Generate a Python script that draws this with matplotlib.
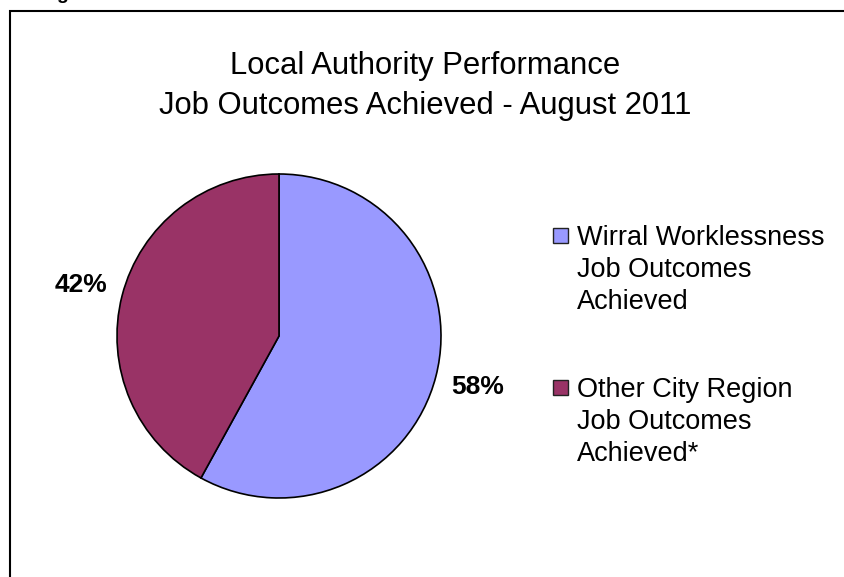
import numpy as np
import matplotlib.pyplot as plt
from matplotlib.patches import Rectangle

plt.rcParams['font.family'] = ['Liberation Sans', 'DejaVu Sans']

title = 'Local Authority Performance\nJob Outcomes Achieved - August 2011'
labels = ['Wirral Worklessness\nJob Outcomes\nAchieved',
          'Other City Region\nJob Outcomes\nAchieved*']
values = [58, 42]
colors = ['#9999FF', '#993366']

W, H = 844, 577
fig = plt.figure(figsize=(W / 100, H / 100), dpi=100)

# frame of the chart area (cut off at right and bottom)
fig.patches.append(Rectangle((10 / W, -0.1), 1.1, 1 - 11 / H + 0.1,
                             transform=fig.transFigure, fill=False,
                             edgecolor='black', lw=1.5))
# descender of a cut-off heading above the frame
fig.text(62 / W, 1 + 1 / H, 'g', fontsize=14, fontweight='bold',
         ha='center', va='baseline')

fig.text(425 / W, 1 - 86 / H, title, fontsize=22.3, ha='center', va='center',
         multialignment='center', linespacing=1.4)

# pie: centre (279, 336) px, radius 162 px
cx, cy, r = 279, 336, 162
ax = fig.add_axes([(cx - r) / W, (H - cy - r) / H, 2 * r / W, 2 * r / H])
wedges, _, autotexts = ax.pie(values, colors=colors, startangle=90,
                              counterclock=False, autopct='%1.0f%%',
                              pctdistance=1.265,
                              wedgeprops=dict(edgecolor='black', linewidth=1.2))
ax.set_xlim(-1, 1)
ax.set_ylim(-1, 1)
for t in autotexts:
    t.set_fontsize(19)
    t.set_fontweight('bold')
    t.set_color('black')

# legend drawn by hand so the key sits on the first line
first_base = [243, 395]
step = 33
for lab, col, by in zip(labels, colors, first_base):
    fig.patches.append(Rectangle((553 / W, 1 - by / H), 15 / W, 15 / H,
                                 transform=fig.transFigure, facecolor=col,
                                 edgecolor='#222222', lw=1))
    last = by + step * lab.count('\n')
    fig.text(577 / W, 1 - last / H, lab, fontsize=19.5, ha='left',
             va='baseline', linespacing=1.31)

fig.savefig('out.png', dpi=100)
